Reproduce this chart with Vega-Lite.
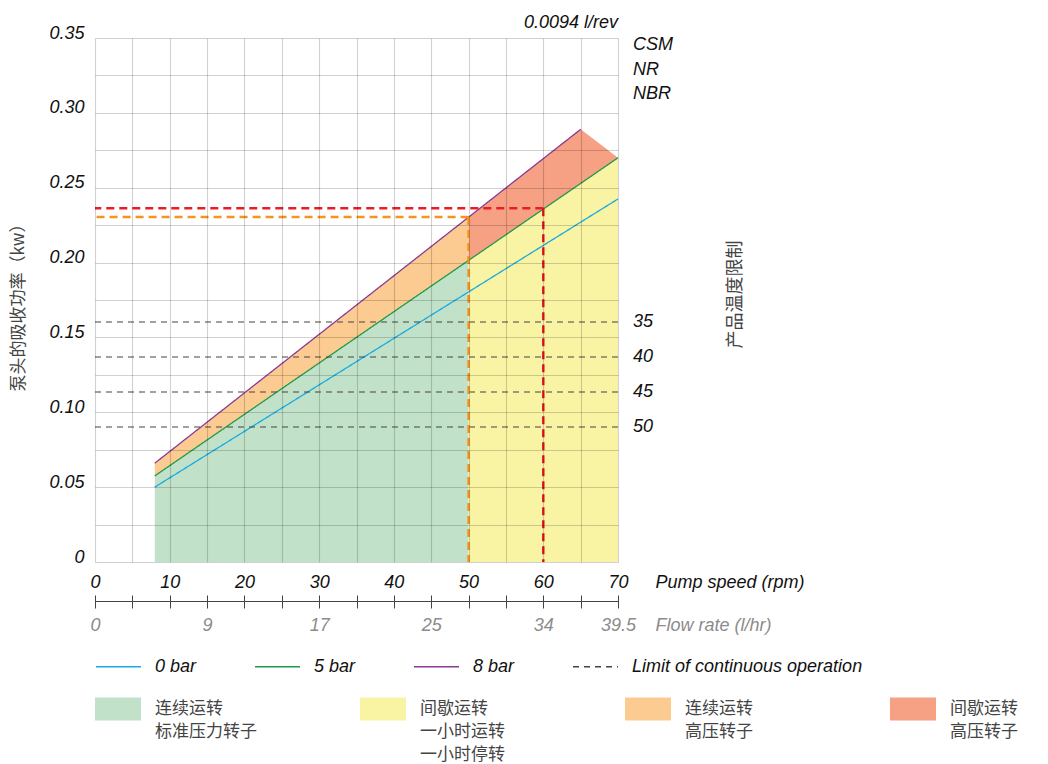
{
  "$schema": "https://vega.github.io/schema/vega-lite/v6.json",
  "width": 523,
  "height": 524,
  "autosize": {"type": "none"},
  "padding": {"left": 95, "top": 38, "right": 430, "bottom": 202},
  "background": "white",
  "config": {"view": {"stroke": null}},
  "datasets": {
    "areas": [
      {"region": "连续运转\n标准压力转子", "rpm": 8, "lo": 0, "hi": 0.0575},
      {"region": "连续运转\n标准压力转子", "rpm": 50, "lo": 0, "hi": 0.2015},
      {"region": "间歇运转\n一小时运转\n一小时停转", "rpm": 50, "lo": 0, "hi": 0.2015},
      {"region": "间歇运转\n一小时运转\n一小时停转", "rpm": 70, "lo": 0, "hi": 0.27},
      {"region": "连续运转\n高压转子", "rpm": 8, "lo": 0.0575, "hi": 0.066},
      {"region": "连续运转\n高压转子", "rpm": 50, "lo": 0.2015, "hi": 0.2303},
      {"region": "间歇运转\n高压转子", "rpm": 50, "lo": 0.2015, "hi": 0.2303},
      {"region": "间歇运转\n高压转子", "rpm": 65, "lo": 0.2528, "hi": 0.289},
      {"region": "间歇运转\n高压转子", "rpm": 70, "lo": 0.27, "hi": 0.27}
    ],
    "lines": [
      {"series": "0 bar", "rpm": 8, "v": 0.05},
      {"series": "0 bar", "rpm": 70, "v": 0.2425},
      {"series": "5 bar", "rpm": 8, "v": 0.0575},
      {"series": "5 bar", "rpm": 70, "v": 0.27},
      {"series": "8 bar", "rpm": 8, "v": 0.066},
      {"series": "8 bar", "rpm": 65, "v": 0.289}
    ],
    "limits": [
      {"series": "Limit of continuous operation", "temp": "35", "v": 0.1603},
      {"series": "Limit of continuous operation", "temp": "40", "v": 0.1369},
      {"series": "Limit of continuous operation", "temp": "45", "v": 0.1135},
      {"series": "Limit of continuous operation", "temp": "50", "v": 0.0902}
    ],
    "guides": [
      {"kind": "orange", "rpm": 50, "v": 0.2305},
      {"kind": "red", "rpm": 60, "v": 0.2362}
    ],
    "notes": [
      {"label": "CSM", "v": 0.345},
      {"label": "NR", "v": 0.3287},
      {"label": "NBR", "v": 0.3129}
    ],
    "header": [
      {"label": "0.0094 l/rev"}
    ]
  },
  "layer": [
    {
      "data": {"name": "areas"},
      "mark": {"type": "area", "opacity": 1},
      "encoding": {
        "x": {"field": "rpm", "type": "quantitative", "scale": {"domain": [0, 70], "nice": false, "zero": false},
          "axis": {"orient": "bottom", "values": [0,5,10,15,20,25,30,35,40,45,50,55,60,65,70], "labelExpr": "datum.value % 10 == 0 ? datum.label : ''", "ticks": false, "domain": false, "grid": true, "gridColor": "#000", "gridOpacity": 0.18, "gridWidth": 1.1, "labelFont": "Liberation Sans", "labelFontSize": 18, "labelFontStyle": "italic", "labelColor": "#111", "labelPadding": 11, "labelFlush": false, "labelOverlap": false, "labelBound": false, "title": "Pump speed (rpm)", "titleX": 560, "titleY": 25, "titleAlign": "left", "titleAnchor": "start", "titleBaseline": "alphabetic", "titleFont": "Liberation Sans", "titleFontSize": 18, "titleFontStyle": "italic", "titleFontWeight": "normal", "titleColor": "#111", "zindex": 1}},
        "y": {"field": "lo", "type": "quantitative", "scale": {"domain": [0, 0.35], "nice": false, "zero": false},
          "axis": {"orient": "left", "values": [0,0.025,0.05,0.075,0.1,0.125,0.15,0.175,0.2,0.225,0.25,0.275,0.3,0.325,0.35], "labelExpr": "round(datum.value*1000) % 50 == 0 ? (datum.value == 0 ? '0' : format(datum.value, '.2f')) : ''", "ticks": false, "domain": false, "grid": true, "gridColor": "#000", "gridOpacity": 0.18, "gridWidth": 1.1, "labelFont": "Liberation Sans", "labelFontSize": 18, "labelFontStyle": "italic", "labelColor": "#111", "labelPadding": 11, "labelBaseline": "alphabetic", "labelFlush": false, "labelOverlap": false, "labelBound": false, "title": "泵头的吸收功率（kw）", "titleFont": "Noto Sans CJK SC", "titleFontSize": 17, "titleFontWeight": "normal", "titleColor": "#444", "titleX": -77, "titleY": 265, "titleAngle": 270, "titleAlign": "center", "titleBaseline": "middle", "zindex": 1}},
        "y2": {"field": "hi"},
        "fill": {"field": "region", "type": "nominal",
          "scale": {"domain": ["连续运转\n标准压力转子", "间歇运转\n一小时运转\n一小时停转", "连续运转\n高压转子", "间歇运转\n高压转子"], "range": ["#c1e2c9", "#f9f3a4", "#fccb91", "#f6a084"]},
          "legend": {"orient": "none", "legendX": 0, "legendY": 648, "direction": "horizontal", "title": null, "symbolType": "M-1,-0.5H1V0.5H-1Z", "symbolSize": 2116, "symbolStrokeWidth": 0, "symbolOpacity": 1, "labelExpr": "length(split(datum.label, '\\n')) == 2 ? [split(datum.label, '\\n')[0], split(datum.label, '\\n')[1], ' '] : split(datum.label, '\\n')", "labelFont": "Noto Sans CJK SC", "labelFontSize": 17, "labelColor": "#444", "labelOffset": 14, "labelBaseline": "middle", "labelLimit": 300, "columnPadding": 103, "gridAlign": "all", "padding": 0, "encode": {"labels": {"update": {"lineHeight": {"value": 23}}}}}}
      }
    },
    {
      "data": {"name": "lines"},
      "mark": {"type": "line", "strokeWidth": 1.3},
      "encoding": {
        "x": {"field": "rpm", "type": "quantitative",
          "axis": {"orient": "bottom", "offset": 33, "values": [0,5,10,15,20,25,30,35,40,45,50,55,60,65,70], "domain": false, "grid": false, "ticks": true, "tickSize": 13, "tickColor": "#444", "tickWidth": 1, "labelExpr": "datum.value==0?'0':datum.value==15?'9':datum.value==30?'17':datum.value==45?'25':datum.value==60?'34':datum.value==70?'39.5':''", "labelPadding": 8, "labelColor": "#8c8c8c", "labelFont": "Liberation Sans", "labelFontSize": 18, "labelFontStyle": "italic", "labelFlush": false, "labelOverlap": false, "labelBound": false, "title": "Flow rate (l/hr)", "titleX": 560, "titleY": 35, "titleAlign": "left", "titleAnchor": "start", "titleBaseline": "alphabetic", "titleFont": "Liberation Sans", "titleFontSize": 18, "titleFontStyle": "italic", "titleFontWeight": "normal", "titleColor": "#8c8c8c"}},
        "y": {"field": "v", "type": "quantitative", "axis": null},
        "color": {"field": "series", "type": "nominal",
          "scale": {"domain": ["0 bar", "5 bar", "8 bar", "Limit of continuous operation"], "range": ["#19a9e3", "#1f9a4b", "#8b3a94", "#444444"]},
          "legend": {"orient": "none", "legendX": 0, "legendY": 605, "direction": "horizontal", "title": null, "symbolType": "stroke", "symbolSize": 2025, "symbolStrokeWidth": 1.5, "labelFont": "Liberation Sans", "labelFontSize": 18, "labelFontStyle": "italic", "labelColor": "#111", "labelOffset": 13, "labelLimit": 400, "columnPadding": 55, "padding": 0}},
        "strokeDash": {"field": "series", "type": "nominal",
          "scale": {"domain": ["0 bar", "5 bar", "8 bar", "Limit of continuous operation"], "range": [[1, 0], [1, 0], [1, 0], [6, 5]]},
          "legend": {"orient": "none", "legendX": 0, "legendY": 605, "direction": "horizontal", "title": null, "symbolType": "stroke", "symbolSize": 2025, "symbolStrokeWidth": 1.5, "labelFont": "Liberation Sans", "labelFontSize": 18, "labelFontStyle": "italic", "labelColor": "#111", "labelOffset": 13, "labelLimit": 400, "columnPadding": 55, "padding": 0}}
      }
    },
    {
      "data": {"name": "limits"},
      "mark": {"type": "rule", "strokeWidth": 1.1},
      "encoding": {
        "y": {"field": "v", "type": "quantitative",
          "axis": {"orient": "right", "labels": false, "ticks": false, "domain": false, "grid": false, "title": "产品温度限制", "titleFont": "Noto Sans CJK SC", "titleFontSize": 18, "titleFontWeight": "normal", "titleColor": "#444", "titleX": 117, "titleY": 256, "titleAngle": 270, "titleAlign": "center", "titleBaseline": "middle"}},
        "color": {"field": "series", "type": "nominal"},
        "strokeDash": {"field": "series", "type": "nominal"}
      }
    },
    {
      "data": {"name": "guides"},
      "mark": {"type": "rule", "strokeWidth": 2.5, "strokeDash": [8, 5]},
      "encoding": {
        "x": {"field": "rpm", "type": "quantitative", "axis": null},
        "x2": {"datum": 0},
        "y": {"field": "v", "type": "quantitative", "axis": null},
        "stroke": {"field": "kind", "type": "nominal", "scale": {"domain": ["orange", "red"], "range": ["#f7941d", "#ec1c24"]}, "legend": null}
      }
    },
    {
      "data": {"name": "guides"},
      "mark": {"type": "rule", "strokeWidth": 2.5, "strokeDash": [8, 5]},
      "encoding": {
        "x": {"field": "rpm", "type": "quantitative",
          "axis": {"orient": "bottom", "offset": 39, "domain": true, "domainColor": "#444", "domainWidth": 1.2, "ticks": false, "labels": false, "grid": false, "title": null}},
        "y": {"field": "v", "type": "quantitative", "axis": null},
        "y2": {"datum": 0},
        "stroke": {"field": "kind", "type": "nominal", "legend": null}
      }
    },
    {
      "data": {"name": "limits"},
      "mark": {"type": "text", "align": "left", "baseline": "middle", "dx": 15, "font": "Liberation Sans", "fontSize": 18, "fontStyle": "italic", "color": "#111"},
      "encoding": {
        "x": {"datum": 70, "type": "quantitative", "axis": null},
        "y": {"field": "v", "type": "quantitative", "axis": null},
        "text": {"field": "temp", "type": "nominal"}
      }
    },
    {
      "data": {"name": "notes"},
      "mark": {"type": "text", "align": "left", "baseline": "middle", "dx": 15, "font": "Liberation Sans", "fontSize": 18, "fontStyle": "italic", "color": "#111"},
      "encoding": {
        "x": {"datum": 70, "type": "quantitative", "axis": null},
        "y": {"field": "v", "type": "quantitative", "axis": null},
        "text": {"field": "label", "type": "nominal"}
      }
    },
    {
      "data": {"name": "header"},
      "mark": {"type": "text", "align": "right", "baseline": "alphabetic", "dy": -10, "font": "Liberation Sans", "fontSize": 18, "fontStyle": "italic", "color": "#111"},
      "encoding": {
        "x": {"datum": 70, "type": "quantitative", "axis": null},
        "y": {"datum": 0.35, "type": "quantitative", "axis": null},
        "text": {"field": "label", "type": "nominal"}
      }
    }
  ],
  "resolve": {"axis": {"x": "independent", "y": "independent"}}
}
